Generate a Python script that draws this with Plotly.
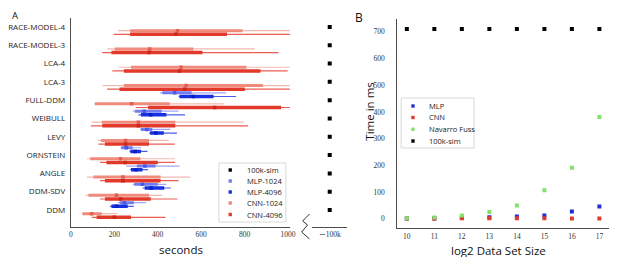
import plotly.graph_objects as go

# The page body has an 8px default margin; build the figure to fit the
# remaining 609x249 area so it lands where the reference has it.
PAGE_W, PAGE_H = 617, 257
OFF = 8
FW, FH = PAGE_W - OFF, PAGE_H - OFF

# ---------------- data: panel A (seconds) ----------------
models = ["RACE-MODEL-4", "RACE-MODEL-3", "LCA-4", "LCA-3", "FULL-DDM",
          "WEIBULL", "LEVY", "ORNSTEIN", "ANGLE", "DDM-SDV", "DDM"]
series_a = ["100k-sim", "MLP-1024", "MLP-4096", "CNN-1024", "CNN-4096"]

# per model: [low, q1, median, q3, high]; None = not available
mlp_1024 = [None, None, None, None,
            [410, 421, 478, 556, 715],
            [285, 295, 338, 418, 496],
            [318, 323, 350, 375, 458],
            [228, 232, 255, 285, 323],
            [255, 304, 341, 390, 500],
            [285, 292, 330, 400, 440],
            [217, 225, 247, 290, 346]]
mlp_4096 = [None, None, None, None,
            [496, 500, 564, 657, 760],
            [311, 323, 368, 440, 526],
            [360, 365, 391, 428, 489],
            [270, 274, 296, 323, 353],
            [273, 277, 300, 330, 356],
            [330, 340, 370, 430, 460],
            [180, 187, 210, 262, 290]]
cnn_1024 = [[217, 273, 491, 790, 1020],
            [167, 202, 363, 564, 847],
            [220, 277, 508, 808, 1020],
            [146, 244, 531, 884, 1020],
            [108, 111, 280, 455, 704],
            [96, 142, 311, 481, 795],
            [124, 139, 252, 360, 451],
            [74, 89, 229, 320, 480],
            [74, 104, 240, 413, 549],
            [69, 81, 210, 360, 420],
            [51, 54, 96, 142, 215]]
cnn_4096 = [[197, 273, 484, 719, 1020],
            [145, 187, 360, 606, 956],
            [191, 244, 500, 873, 998],
            [167, 224, 524, 801, 1020],
            [300, 356, 662, 968, 1020],
            [92, 145, 311, 481, 816],
            [127, 157, 252, 360, 478],
            [134, 164, 250, 400, 480],
            [134, 157, 240, 413, 496],
            [134, 157, 230, 368, 491],
            [96, 119, 200, 277, 436]]
sim_100k_s = [100000] * 11

# ---------------- data: panel B (ms) ----------------
series_b = ["MLP", "CNN", "Navarro Fuss", "100k-sim"]
log2_size = [10, 11, 12, 13, 14, 15, 16, 17]
mlp_ms = [1, 2, 3, 5, 8, 12, 27, 46]
cnn_ms = [1, 0, 2, 2, 2, 2, 1, 1]
navarro_ms = [2, 4, 12, 25, 49, 106, 191, 381]
sim_ms = [711, 711, 711, 711, 711, 711, 711, 711]


def px(x):
    return (x - OFF) / FW


def py(y):
    return 1 - (y - OFF) / FH


SPINE = "#4d4d4d"
SANS = "Open Sans"
SERIF = "Liberation Serif"

fig = go.Figure()
n = len(models)
ycat = [n - 1 - i for i in range(n)]

configs = [
    (mlp_1024, 0.4, "#a0a8f5", "#6f7df0", "#4a5ae8", 3.0),
    (mlp_4096, 0.2, "#4a5ce8", "#1730e0", "#0a1fc8", 3.5),
    (cnn_1024, -0.2, "#f5b8af", "#ef8a7c", "#e3604f", 3.0),
    (cnn_4096, -0.4, "#ea5d50", "#e2392b", "#c9281c", 3.5),
]
for stats, off, c_thin, c_thick, c_med, w in configs:
    tx, ty, kx, ky, mx, my = [], [], [], [], [], []
    for yc, s in zip(ycat, stats):
        if s is None:
            continue
        lo, q1, med, q3, hi = s
        y = yc + off
        tx += [lo, hi, None]
        ty += [y, y, None]
        kx += [q1, q3, None]
        ky += [y, y, None]
        mx.append(med)
        my.append(y)
    fig.add_trace(go.Scatter(x=tx, y=ty, mode="lines", line=dict(color=c_thin, width=1.2),
                             hoverinfo="skip", xaxis="x", yaxis="y"))
    fig.add_trace(go.Scatter(x=kx, y=ky, mode="lines", line=dict(color=c_thick, width=w),
                             hoverinfo="skip", xaxis="x", yaxis="y"))
    fig.add_trace(go.Scatter(x=mx, y=my, mode="markers",
                             marker=dict(symbol="square", size=3.5, color=c_med),
                             xaxis="x", yaxis="y"))

fig.add_trace(go.Scatter(x=sim_100k_s, y=ycat, mode="markers",
                         marker=dict(symbol="square", size=4, color="black"),
                         xaxis="x2", yaxis="y2"))

# panel B
b_colors = ["#1f2fd6", "#e03a2a", "#7fe36a", "black"]
for vals, col in zip([mlp_ms, cnn_ms, navarro_ms, sim_ms], b_colors):
    fig.add_trace(go.Scatter(x=log2_size, y=vals, mode="markers",
                             marker=dict(symbol="square", size=4, color=col),
                             xaxis="x3", yaxis="y3"))

shapes = []
annotations = []

# axis-break zigzag
zz = [(311, 214), (304, 221), (309, 225), (303, 232), (311, 239)]
path = "M " + " L ".join(f"{px(a):.5f},{py(b):.5f}" for a, b in zz)
shapes.append(dict(type="path", xref="paper", yref="paper", path=path,
                   line=dict(color="#333", width=1)))


def manual_legend(x0, x1, y0, y1, ys, names, colors, mx, tx):
    shapes.append(dict(type="rect", xref="paper", yref="paper",
                       x0=px(x0), x1=px(x1), y0=py(y1), y1=py(y0),
                       line=dict(color="#d9d9d9", width=1), fillcolor="rgba(255,255,255,0.85)"))
    for yy, nm, col in zip(ys, names, colors):
        shapes.append(dict(type="rect", xref="paper", yref="paper",
                           x0=px(mx - 1.7), x1=px(mx + 1.7), y0=py(yy + 1.7), y1=py(yy - 1.7),
                           line=dict(width=0), fillcolor=col))
        annotations.append(dict(text=nm, xref="paper", yref="paper", x=px(tx), y=py(yy),
                                xanchor="left", yanchor="middle", showarrow=False,
                                font=dict(family=SANS, size=7.5, color="#222")))


manual_legend(219, 287, 163, 222, [170, 181, 192, 203, 214.5], series_a,
              ["black", "#6f7df0", "#1730e0", "#ef8a7c", "#e2392b"], 230.5, 246)
manual_legend(404, 478, 98, 148, [106, 117.5, 129.3, 141], series_b,
              b_colors, 416, 430)

# panel letters
annotations.append(dict(text="A", xref="paper", yref="paper", x=px(8), y=py(8),
                        xanchor="left", yanchor="top", showarrow=False, borderpad=0,
                        font=dict(family=SANS, size=9.5, color="#111")))
annotations.append(dict(text="B", xref="paper", yref="paper", x=px(361), y=py(8),
                        xanchor="center", yanchor="top", showarrow=False, borderpad=0,
                        font=dict(family=SANS, size=12, color="#111")))
for txt, x, y, ang in [("seconds", 181, 249, 0),
                       ("log2 Data Set Size", 503, 250, 0),
                       ("Time in ms", 371, 112, -90)]:
    annotations.append(dict(text=txt, xref="paper", yref="paper", x=px(x), y=py(y),
                            xanchor="center", yanchor="middle", showarrow=False, textangle=ang,
                            font=dict(family=SANS, size=11.5, color="#111")))

tick_serif = dict(family=SERIF, size=7.5, color="#333")
common = dict(showgrid=False, zeroline=False, ticks="", showline=True, linecolor=SPINE, linewidth=1)

fig.update_layout(
    width=FW, height=FH, margin=dict(l=0, r=0, t=0, b=0),
    plot_bgcolor="white", paper_bgcolor="white", showlegend=False,
    font=dict(family=SANS, color="#222"),
    xaxis=dict(domain=[px(68.7), px(291)], range=[0, 1008], tickvals=[0, 200, 400, 600, 800, 1000],
               tickfont=tick_serif, anchor="y", ticklabelstandoff=0, **common),
    yaxis=dict(domain=[py(227), py(18)], range=[-0.93, 10.49], tickvals=ycat, ticktext=models,
               tickfont=dict(family=SANS, size=8, color="#222"), anchor="x",
               ticklabelstandoff=3, **common),
    xaxis2=dict(domain=[px(314), px(349)], range=[0, 200000], tickvals=[100000], ticktext=["∼100k"],
                tickfont=tick_serif, anchor="y2", ticklabelstandoff=0, **common),
    yaxis2=dict(domain=[py(227), py(18)], range=[-0.93, 10.49], visible=False, anchor="x2"),
    xaxis3=dict(domain=[px(400), px(615)], range=[9.65, 17.35], tickvals=log2_size,
                tickfont=tick_serif, anchor="y3", ticklabelstandoff=1, **common),
    yaxis3=dict(domain=[py(228), py(19.3)], range=[-35, 747], tickvals=[0, 100, 200, 300, 400, 500, 600, 700],
                tickfont=tick_serif, anchor="x3", ticklabelstandoff=10, **common),
    shapes=shapes, annotations=annotations,
)

fig.write_html("out.html")
